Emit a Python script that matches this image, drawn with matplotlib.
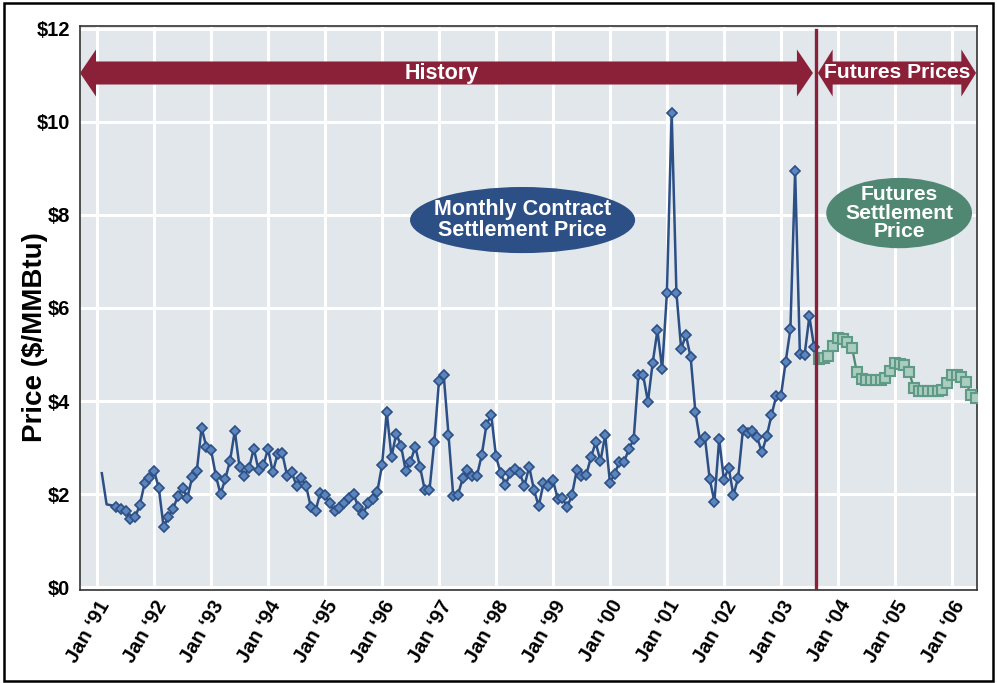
import numpy as np
import pandas as pd
import matplotlib
matplotlib.use('Agg')
import matplotlib.pyplot as plt
from matplotlib.patches import Ellipse, Polygon, Rectangle

plt.rcParams['font.family'] = ['Liberation Sans', 'DejaVu Sans']

# monthly contract settlement prices, Feb 1991 - Aug 2003 ($/MMBtu)
hist_start = '1991-02-01'
hist_prices = [2.45, 1.78, 1.76, 1.73, 1.69, 1.64, 1.46, 1.50, 1.77, 2.23,
               2.34, 2.50, 2.13, 1.30, 1.51, 1.69, 1.95, 2.14, 1.91, 2.36,
               2.50, 3.43, 3.02, 2.95, 2.40, 2.00, 2.33, 2.72, 3.36, 2.58,
               2.40, 2.56, 2.98, 2.52, 2.62, 2.97, 2.47, 2.86, 2.88, 2.40,
               2.47, 2.18, 2.34, 2.18, 1.73, 1.64, 2.03, 1.98, 1.80, 1.64,
               1.71, 1.80, 1.92, 2.00, 1.73, 1.57, 1.80, 1.89, 2.05, 2.62,
               3.76, 2.80, 3.30, 3.04, 2.50, 2.70, 3.02, 2.59, 2.09, 2.09,
               3.11, 4.44, 4.55, 3.28, 1.96, 1.99, 2.34, 2.51, 2.38, 2.40,
               2.84, 3.49, 3.71, 2.81, 2.45, 2.20, 2.45, 2.54, 2.45, 2.18,
               2.59, 2.09, 1.74, 2.23, 2.18, 2.30, 1.90, 1.91, 1.72, 1.98,
               2.51, 2.38, 2.41, 2.79, 3.11, 2.71, 3.27, 2.25, 2.43, 2.70,
               2.70, 2.97, 3.18, 4.57, 4.55, 3.99, 4.82, 5.52, 4.69, 6.33,
               10.20, 6.33, 5.12, 5.42, 4.94, 3.76, 3.13, 3.22, 2.33, 1.84,
               3.18, 2.31, 2.57, 1.98, 2.35, 3.38, 3.32, 3.35, 3.22, 2.90,
               3.24, 3.69, 4.10, 4.10, 4.84, 5.54, 8.95, 5.02, 5.00, 5.82,
               5.16]

# futures settlement prices, Sep 2003 - Jun 2006
fut_start = '2003-09-01'
fut_prices = [4.90, 4.93, 4.96, 5.18, 5.36, 5.34, 5.28, 5.14, 4.62, 4.48,
              4.46, 4.46, 4.46, 4.46, 4.50, 4.64, 4.82, 4.80, 4.77, 4.62,
              4.29, 4.21, 4.21, 4.21, 4.21, 4.22, 4.24, 4.39, 4.57, 4.55,
              4.52, 4.41, 4.14, 4.06]

tick_years = list(range(1991, 2007))
tick_labels = ["Jan \u2018%02d" % (y % 100) for y in tick_years]
y_ticks = [0, 2, 4, 6, 8, 10, 12]


def to_month(dates):
    return (dates.year - 1991) * 12 + dates.month - 1


hist_x = to_month(pd.date_range(hist_start, periods=len(hist_prices), freq='MS'))
fut_x = to_month(pd.date_range(fut_start, periods=len(fut_prices), freq='MS'))

maroon = '#8B2139'
navy = '#2C4F86'
green = '#4F8773'


def double_arrow(ax, x0, x1, y, body_h, head_h, head_len):
    pts = [(x0, y), (x0 + head_len, y + head_h / 2), (x0 + head_len, y + body_h / 2),
           (x1 - head_len, y + body_h / 2), (x1 - head_len, y + head_h / 2), (x1, y),
           (x1 - head_len, y - head_h / 2), (x1 - head_len, y - body_h / 2),
           (x0 + head_len, y - body_h / 2), (x0 + head_len, y - head_h / 2)]
    ax.add_patch(Polygon(pts, closed=True, fc=maroon, ec='none', zorder=4))


fig = plt.figure(figsize=(9.97, 6.83), dpi=100)
ax = fig.add_axes([80 / 997, 1 - 590 / 683, 897 / 997, 564 / 683])
ax.set_facecolor('#E2E7EC')

ax.set_xlim(-3.6, 185.3)
ax.set_ylim(-0.06, 12.06)

ax.set_xticks([(y - 1991) * 12 for y in tick_years])
ax.set_xticklabels(tick_labels, rotation=60, ha='right', va='top',
                   rotation_mode='anchor', fontsize=14.5, fontweight='bold')
ax.set_yticks(y_ticks)
ax.set_yticklabels(['$%d' % v for v in y_ticks], fontsize=14.5, fontweight='bold')
ax.tick_params(axis='both', length=0)
ax.tick_params(axis='y', pad=7)
ax.tick_params(axis='x', pad=5)
ax.grid(True, color='white', linewidth=2.2)
ax.set_axisbelow(True)
for s in ax.spines.values():
    s.set_color('#333333')
    s.set_linewidth(1.2)

ax.set_ylabel('Price ($/MMBtu)', fontsize=20, fontweight='bold')
ax.yaxis.set_label_coords(-0.036, 0.449)

# history series
ax.plot(hist_x, hist_prices, color=navy, linewidth=1.8, marker='D', markersize=5.5,
        markerfacecolor='#5B85BC', markeredgecolor=navy, markeredgewidth=1.2,
        markevery=list(range(3, len(hist_prices))), zorder=5)
# futures series
ax.plot(fut_x, fut_prices, color=green, linewidth=1.6, marker='s', markersize=6.5,
        markerfacecolor='#A9CDBF', markeredgecolor='#5E9A85', markeredgewidth=1.5,
        zorder=5)

# divider
ax.axvline(151.3, ymax=0.993, color=maroon, linewidth=2.4, zorder=6)

# banners
double_arrow(ax, -3.6, 150.75, 11.05, 0.495, 1.01, 3.37)
double_arrow(ax, 151.8, 185.1, 11.05, 0.495, 1.01, 3.1)
ax.text(72.6, 11.05, 'History', color='white', fontsize=15.5, fontweight='bold',
        ha='center', va='center', zorder=7)
ax.text(168.4, 11.05, 'Futures Prices', color='white', fontsize=15.2, fontweight='bold',
        ha='center', va='center', zorder=7)

# series labels
ax.add_patch(Ellipse((89.6, 7.89), 47.4, 1.42, fc=navy, ec='none', zorder=6))
ax.text(89.6, 7.89, 'Monthly Contract\nSettlement Price', color='white', fontsize=15.5,
        fontweight='bold', ha='center', va='center', linespacing=1.0, zorder=7)
ax.add_patch(Ellipse((168.9, 8.04), 30.7, 1.51, fc=green, ec='none', zorder=6))
ax.text(168.9, 8.04, 'Futures\nSettlement\nPrice', color='white', fontsize=15.2,
        fontweight='bold', ha='center', va='center', linespacing=0.95, zorder=7)

fig.patches.append(Rectangle((4 / 997, 2 / 683), 989 / 997, 678 / 683,
                             transform=fig.transFigure, fill=False,
                             edgecolor='black', linewidth=1.8))

fig.savefig('out.png', dpi=100)
